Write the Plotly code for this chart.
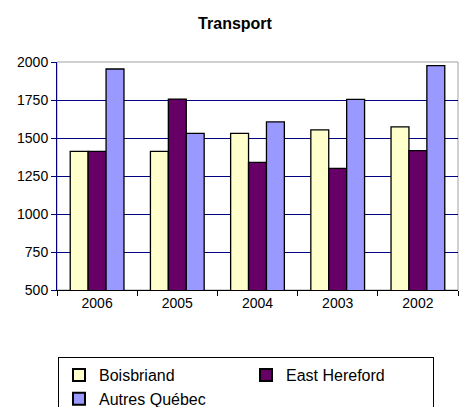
import plotly.graph_objects as go

years = ["2006", "2005", "2004", "2003", "2002"]
boisbriand = [1412, 1412, 1531, 1553, 1573]
east_hereford = [1412, 1756, 1339, 1300, 1417]
autres_quebec = [1954, 1531, 1606, 1754, 1976]

series = [
    ("Boisbriand", boisbriand, "#FFFFCC"),
    ("East Hereford", east_hereford, "#660066"),
    ("Autres Québec", autres_quebec, "#9999FF"),
]

fig = go.Figure()
for name, vals, color in series:
    fig.add_trace(go.Bar(
        x=years, y=vals, name=name,
        marker=dict(color=color, line=dict(color="black", width=1.3)),
    ))

fig.update_layout(
    width=459, height=407,
    paper_bgcolor="white", plot_bgcolor="white",
    margin=dict(l=57, r=1, t=62, b=117, autoexpand=False),
    barmode="group", bargap=0.33, bargroupgap=0,
    title=dict(text="<b>Transport</b>", x=0.512, xanchor="center", y=1 - 23 / 407, yanchor="middle",
               font=dict(family="Liberation Sans, Arial", size=16, color="black")),
    font=dict(family="Liberation Sans, Arial", color="black"),
    xaxis=dict(
        showline=True, linecolor="black", linewidth=1,
        ticks="outside", tickson="boundaries", ticklen=5, tickcolor="black",
        tickfont=dict(size=14), showgrid=False, automargin=False,
    ),
    yaxis=dict(
        range=[500, 2000], tickvals=[500, 750, 1000, 1250, 1500, 1750, 2000],
        showline=True, linecolor="#000080", linewidth=1,
        ticks="outside", ticklen=5, tickcolor="#000080",
        showgrid=True, gridcolor="#000080", gridwidth=1,
        tickfont=dict(size=14), zeroline=False, automargin=False,
    ),
    legend=dict(
        orientation="h", xref="container", yref="container",
        x=58 / 459, y=1 - 357 / 407, xanchor="left", yanchor="top",
        bordercolor="black", borderwidth=1,
        font=dict(size=16), entrywidth=142, entrywidthmode="pixels",
        itemsizing="constant", traceorder="normal",
    ),
    shapes=[dict(type="rect", xref="paper", yref="paper", x0=0, x1=1, y0=0, y1=1,
                 line=dict(color="#A0A0A0", width=1), layer="below")],
)

fig.write_html("out.html", config={"displayModeBar": False},
               post_script="document.body.style.margin='0';document.body.style.overflow='hidden';")
